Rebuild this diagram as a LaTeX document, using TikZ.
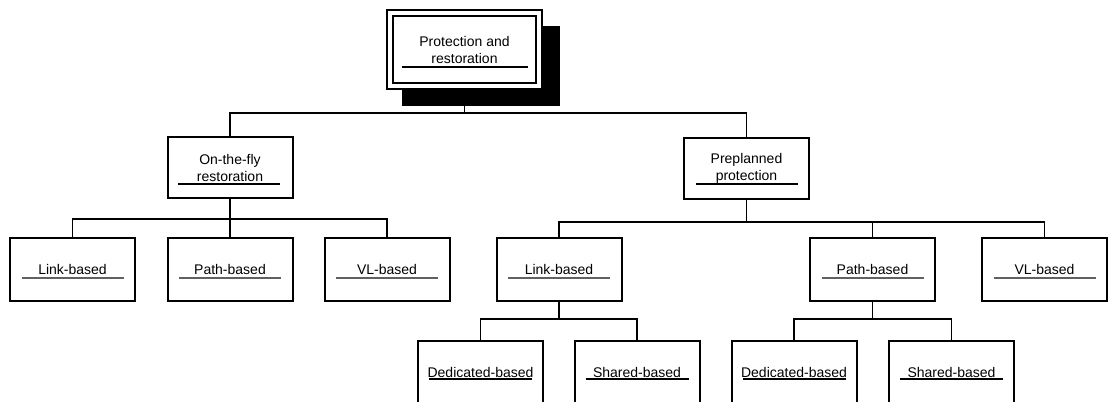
\documentclass[tikz,border=0pt]{standalone}
\usepackage{fontspec}
\setmainfont{Liberation Sans}
\usetikzlibrary{calc}
\begin{document}
\begin{tikzpicture}[x=0.75pt,y=-0.75pt,
  bx/.style={draw, line width=1.5pt, fill=white, inner sep=0pt, align=center,
    minimum width=125*0.75pt, minimum height=63*0.75pt,
    font=\fontsize{10.5}{12.75}\selectfont},
  conn/.style={line width=1.4pt},
  ulk/.style={line width=1.5pt},
  ulg/.style={line width=1pt, draw=black!62}]
\useasboundingbox (0,0) rectangle (1108,401);
\clip (0,0) rectangle (1108,401);
% bus levels
\coordinate (b0) at (0,113);
\coordinate (b1) at (0,219);
\coordinate (b2) at (0,222);
\coordinate (b3) at (0,319);
% shadow of the root box
\fill (402,26) rectangle (560,106);
% nodes
\node[bx, double, double distance=3pt, minimum width=149*0.75pt, minimum height=73*0.75pt] (top) at (464.5,49.5) {Protection and\\restoration};
\node[bx, minimum height=61*0.75pt] (otf) at (230,167.5) {On-the-fly\\restoration};
\node[bx, minimum height=61*0.75pt] (pre) at (746.5,168) {Preplanned\\protection};
\node[bx] (l1) at (72.5,269.5) {Link-based};
\node[bx] (l2) at (230,269.5) {Path-based};
\node[bx] (l3) at (387,269.5) {VL-based};
\node[bx] (r1) at (559,269.5) {Link-based};
\node[bx] (r2) at (872.5,269.5) {Path-based};
\node[bx] (r3) at (1044.5,269.5) {VL-based};
\node[bx] (d1) at (480.5,372.5) {Dedicated-based};
\node[bx] (s1) at (637,372.5) {Shared-based};
\node[bx] (d2) at (794,372.5) {Dedicated-based};
\node[bx] (s2) at (951.5,372.5) {Shared-based};
% connectors
\draw[conn] (top.south |- 0,106) -- (top.south |- b0) -| (otf.north);
\draw[conn] (top.south |- b0) -| (pre.north);
\draw[conn] (otf.south) -- (otf.south |- b1) -| (l1.north);
\draw[conn] (otf.south |- b1) -- (l2.north);
\draw[conn] (otf.south |- b1) -| (l3.north);
\draw[conn] (pre.south) -- (pre.south |- b2) -| (r1.north);
\draw[conn] (pre.south |- b2) -| (r2.north);
\draw[conn] (pre.south |- b2) -| (r3.north);
\draw[conn] (r1.south) -- (r1.south |- b3) -| (d1.north);
\draw[conn] (r1.south |- b3) -| (s1.north);
\draw[conn] (r2.south) -- (r2.south |- b3) -| (d2.north);
\draw[conn] (r2.south |- b3) -| (s2.north);
% underlines
\draw[ulk] ($(top.center)+(-62.5,17.5)$) -- ($(top.center)+(63.5,17.5)$);
\draw[ulk] ($(otf.center)+(-52,16.5)$) -- ($(otf.center)+(50,16.5)$);
\draw[ulk] ($(pre.center)+(-50.5,16)$) -- ($(pre.center)+(51.5,16)$);
\foreach \n in {l1,l2,l3,r1,r2,r3}
  \draw[ulg] ($(\n.center)+(-51,8.5)$) -- ($(\n.center)+(51,8.5)$);
\foreach \n in {d1,s1,d2,s2}
  \draw[ulk] ($(\n.center)+(-51.5,6.5)$) -- ($(\n.center)+(51.5,6.5)$);
\end{tikzpicture}
\end{document}
